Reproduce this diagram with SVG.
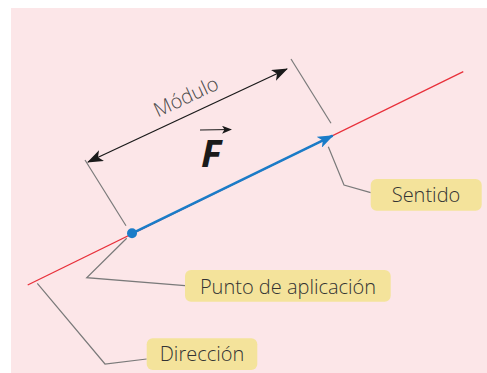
<svg xmlns="http://www.w3.org/2000/svg" width="487" height="373" viewBox="0 0 487 373">
<style>
.lbl{font-family:"Open Sans","Noto Sans",sans-serif;font-weight:300;font-size:20px;fill:#333;text-anchor:middle}
.box{fill:#f4e39b}
.lead{fill:none;stroke:#7a7a7a;stroke-width:1.2}
</style>
<defs>
<marker id="ah" markerWidth="10" markerHeight="8" refX="9" refY="4" orient="auto" markerUnits="userSpaceOnUse"><path d="M0,0 L10,4 L0,8 L2.5,4 Z" fill="#1a1a1a"/></marker>
<marker id="ahb" markerWidth="16" markerHeight="12" refX="15" refY="6" orient="auto" markerUnits="userSpaceOnUse"><path d="M0,0 L16,6 L0,12 L4,6 Z" fill="#1a7cc8"/></marker>
<marker id="ahk" markerWidth="16" markerHeight="12" refX="15" refY="6" orient="auto" markerUnits="userSpaceOnUse"><path d="M0,0 L16,6 L0,12 L4,6 Z" fill="#1a1a1a"/></marker>
<marker id="ahks" markerWidth="16" markerHeight="12" refX="1" refY="6" orient="auto" markerUnits="userSpaceOnUse"><path d="M16,0 L0,6 L16,12 L12,6 Z" fill="#1a1a1a"/></marker>
</defs>
<rect x="11" y="8" width="476" height="365" fill="#fce6e8"/>
<g id="connectors">
<line x1="27.7" y1="285" x2="463.3" y2="71.7" stroke="#e8303a" stroke-width="1.3"/>
<line x1="85" y1="160" x2="126" y2="225.7" class="lead"/>
<line x1="291" y1="59" x2="331" y2="123.3" class="lead"/>
<line x1="88" y1="162" x2="287" y2="69" stroke="#1a1a1a" stroke-width="1.3" marker-start="url(#ahks)" marker-end="url(#ahk)"/>
<line x1="132" y1="233.3" x2="332.7" y2="135.7" stroke="#1a7cc8" stroke-width="2.6" marker-end="url(#ahb)"/>
<polyline points="328.3,146.7 344,185 370.7,192.7" class="lead"/>
<polyline points="126.7,238.3 86.7,277.7 185,285.7" class="lead"/>
<polyline points="37.3,283.3 105,364 146.7,359" class="lead"/>
</g>
<g id="point"><circle cx="132" cy="233.3" r="5" fill="#1a7cc8"/></g>
<g id="modulo"><text transform="translate(189,103) rotate(-25)" class="lbl" style="fill:#4a4a4a">Módulo</text></g>
<g id="F">
<line x1="200" y1="130" x2="231" y2="129.5" stroke="#1a1a1a" stroke-width="1.2" marker-end="url(#ah)"/>
<text x="211" y="167" style="font-family:'Open Sans','Liberation Sans',sans-serif;font-weight:700;font-style:italic;font-size:38px;fill:#1a1a1a;text-anchor:middle">F</text>
</g>
<g id="sentido"><rect x="370.7" y="179" width="111" height="31.7" rx="6" class="box"/><text x="426" y="201.5" class="lbl">Sentido</text></g>
<g id="punto"><rect x="185" y="270" width="205.7" height="31.7" rx="6" class="box"/><text x="288" y="293.5" class="lbl">Punto de aplicación</text></g>
<g id="direccion"><rect x="146.7" y="338.3" width="110.6" height="31.7" rx="6" class="box"/><text x="202" y="360.5" class="lbl">Dirección</text></g>
</svg>
